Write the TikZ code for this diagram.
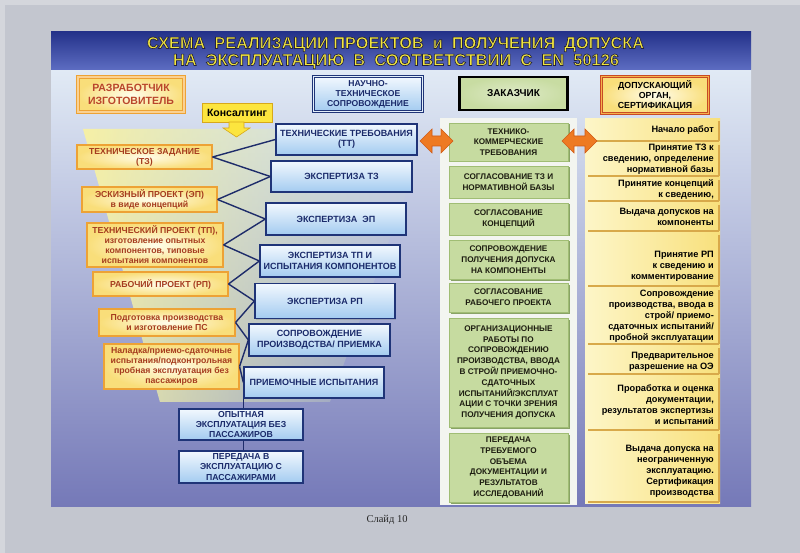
\documentclass[tikz,border=0pt]{standalone}
\usepackage{fontspec}
\setmainfont{Liberation Sans}
\newfontfamily\slidefont{Liberation Serif}
\usetikzlibrary{shadows,fadings}
\definecolor{pagebg}{HTML}{C3C6CF}
\definecolor{pageedge}{HTML}{D4D6DC}
\definecolor{bodytop}{HTML}{E1EAF5}
\definecolor{bodymid}{HTML}{AEB6DF}
\definecolor{bodybot}{HTML}{7579B8}
\definecolor{bandtop}{HTML}{24328A}
\definecolor{bandbot}{HTML}{5D6DC2}
\definecolor{tyel}{HTML}{F3E63C}
\definecolor{obord}{HTML}{EDA235}
\definecolor{oin}{HTML}{FFFDEB}
\definecolor{oout}{HTML}{F9DE7A}
\definecolor{otext}{HTML}{A53C1F}
\definecolor{htext}{HTML}{B9452B}
\definecolor{bbord}{HTML}{1F3478}
\definecolor{bbtop}{HTML}{F2F8FE}
\definecolor{bbbot}{HTML}{A3CBF0}
\definecolor{btext}{HTML}{1A2A6A}
\definecolor{gfill}{HTML}{C6DBA0}
\definecolor{gbord}{HTML}{A0BD74}
\definecolor{gshadow}{HTML}{7E9B58}
\definecolor{gtext}{HTML}{1C1C10}
\definecolor{gpanel}{HTML}{F3F5F0}
\definecolor{ypL}{HTML}{FDF6C8}
\definecolor{ypR}{HTML}{F8E07C}
\definecolor{ysep}{HTML}{D8A94A}
\definecolor{conn}{HTML}{1E2C6A}
\definecolor{aor}{HTML}{EE7A22}
\definecolor{ayl}{HTML}{FDE36A}
\definecolor{abord}{HTML}{D05A16}
\definecolor{konsY}{HTML}{FCE53E}
\definecolor{konsB}{HTML}{D7A81A}
\definecolor{funY}{HTML}{F8F1A2}
\definecolor{funG}{HTML}{D3EBC4}
\definecolor{zfill}{HTML}{C8DCA2}
\definecolor{dred}{HTML}{C84A25}
\definecolor{dor}{HTML}{F6B24A}
\tikzfading[name=fadeR, left color=transparent!5, right color=transparent!100]
\newcommand\fs[2]{\fontsize{#1}{#2}\selectfont}
\newcommand\outl{\special{pdf:literal direct 0.953 0.902 0.235 rg 0.137 0.137 0.247 RG 0.4 w 2 Tr}}
\newcommand\outloff{\special{pdf:literal direct 0 Tr}}
\newcommand\ttlA{\outl\resizebox{497pt}{11.5pt}{\bfseries СХЕМА\ \ РЕАЛИЗАЦИИ\ ПРОЕКТОВ\ \ и\ \ ПОЛУЧЕНИЯ\ \ ДОПУСКА}\outloff}
\newcommand\ttlB{\outl\resizebox{446pt}{11.5pt}{\bfseries НА\ \ ЭКСПЛУАТАЦИЮ\ \ В\ \ СООТВЕТСТВИИ\ \ С\ \ EN\ \ 50126}\outloff}
\newcommand\dblarrow[3]{%
  \shadedraw[top color=aor, middle color=ayl, bottom color=aor, draw=abord, line width=.6pt]
  (#1,#3) -- (#1+12,#3-12) -- (#1+12,#3-5) -- (#2-12,#3-5) -- (#2-12,#3-12) -- (#2,#3)
  -- (#2-12,#3+12) -- (#2-12,#3+5) -- (#1+12,#3+5) -- (#1+12,#3+12) -- cycle;}
\begin{document}
\begin{tikzpicture}[x=1pt,y=-1pt,
  obox/.style={draw=obord, line width=1.1pt, inner color=oin, outer color=oout, text=otext,
    font=\bfseries\fs{8.7}{10}, align=center, inner sep=0pt, minimum width=135pt,
    drop shadow={shadow xshift=1.2pt, shadow yshift=-1.2pt, opacity=.35}},
  bbox/.style={draw=bbord, line width=1.3pt, top color=bbtop, bottom color=bbbot, text=btext,
    font=\bfseries\fs{9}{10.5}, align=center, inner sep=0pt, minimum width=141pt,
    drop shadow={shadow xshift=1.2pt, shadow yshift=-1.2pt, opacity=.35}},
  gbox/.style={draw=gbord, line width=.6pt, fill=gfill, text=gtext, font=\bfseries\fs{8.2}{10.8},
    align=center, inner sep=0pt, minimum width=119pt,
    drop shadow={shadow xshift=1.5pt, shadow yshift=-1.5pt, fill=gshadow, opacity=.9}},
  yitem/.style={anchor=east, align=right, inner sep=0pt, font=\bfseries\fs{9.2}{11}, text=black},
  ysepline/.style={draw=ysep, line width=1.4pt},
  cline/.style={draw=conn, line width=1.4pt},
  ttl/.style={anchor=base, inner sep=0pt},
]
\useasboundingbox (0,0) rectangle (800,553);
\fill[pagebg] (0,0) rectangle (800,553);
\fill[pageedge] (0,0) rectangle (5,553);
\fill[pageedge] (0,0) rectangle (800,5);
% slide body
\shade[top color=bodytop, middle color=bodymid, bottom color=bodybot] (51,70) rectangle (751,506);
% yellow funnel
\shade[left color=funY, right color=funG, path fading=fadeR] (83,129) -- (430,129) -- (330,402) -- (160,402) -- cycle;
% title band
\shade[top color=bandtop, bottom color=bandbot] (51,32) rectangle (751,70);
\node[ttl, text=tyel] (title1) at (395.5,48.5) {\ttlA};
\node[ttl, text=tyel] (title2) at (396,65.5) {\ttlB};

% headers
\node[draw=obord, line width=1.2pt, double=dor!60, double distance=1.2pt, inner color=oin, outer color=oout,
  minimum width=106pt, minimum height=35pt, inner sep=0pt, align=center, text=htext,
  font=\bfseries\fs{10.5}{12.5}] (razr) at (131,94.5) {РАЗРАБОТЧИК\\ИЗГОТОВИТЕЛЬ};
\node[draw=bbord, line width=1pt, double=white!70!bbbot, double distance=1pt, top color=bbtop, bottom color=bbbot,
  minimum width=109pt, minimum height=35pt, inner sep=0pt, align=center, text=btext,
  font=\bfseries\fs{8.6}{10}] (nauch) at (368,94) {НАУЧНО-\\ТЕХНИЧЕСКОЕ\\СОПРОВОЖДЕНИЕ};
\node[draw=black, line width=2.4pt, inner color=zfill!60!white, outer color=zfill,
  minimum width=108pt, minimum height=33pt, inner sep=0pt, text=black,
  font=\bfseries\fs{10}{11}] (zak) at (513.5,93.5) {ЗАКАЗЧИК};
\node[draw=dred, line width=1pt, double=dor, double distance=1.2pt, inner color=oin, outer color=oout,
  minimum width=107pt, minimum height=37pt, inner sep=0pt, align=center, text=black,
  font=\bfseries\fs{8.8}{10}] (dop) at (655,95) {ДОПУСКАЮЩИЙ\\ОРГАН,\\СЕРТИФИКАЦИЯ};

% consulting
\node[draw=konsB, line width=.8pt, fill=konsY, minimum width=70pt, minimum height=19pt, inner sep=0pt,
  font=\bfseries\fs{10.5}{12}] (kons) at (237,112.5) {Консалтинг};
\filldraw[fill=konsY, draw=konsB, line width=.6pt] (229,122) -- (244,122) -- (244,128) -- (250,128)
  -- (236.5,137) -- (223,128) -- (229,128) -- cycle;

% left column
\node[obox, minimum height=24pt] (tz) at (144.5,157) {ТЕХНИЧЕСКОЕ ЗАДАНИЕ\\(ТЗ)};
\node[obox, minimum height=25pt] (ep) at (149.5,199.5) {ЭСКИЗНЫЙ ПРОЕКТ (ЭП)\\в виде концепций};
\node[obox, minimum height=44pt, minimum width=136pt] (tp) at (155,245) {ТЕХНИЧЕСКИЙ ПРОЕКТ (ТП),\\изготовление опытных\\компонентов, типовые\\испытания компонентов};
\node[obox, minimum height=24pt] (rp) at (160.5,284) {РАБОЧИЙ ПРОЕКТ (РП)};
\node[obox, minimum height=27pt, minimum width=136pt] (pp) at (167,322.5) {Подготовка производства\\и изготовление ПС};
\node[obox, minimum height=45pt] (nal) at (171.5,366.5) {Наладка/приемо-сдаточные\\испытания/подконтрольная\\пробная эксплуатация без\\пассажиров};

% middle column
\node[bbox, minimum height=31pt] (tt) at (346.5,139.5) {ТЕХНИЧЕСКИЕ ТРЕБОВАНИЯ\\(ТТ)};
\node[bbox, minimum height=31pt] (etz) at (341.5,176.5) {ЭКСПЕРТИЗА ТЗ};
\node[bbox, minimum height=32pt, minimum width=140pt] (eep) at (336,219) {ЭКСПЕРТИЗА\ \ ЭП};
\node[bbox, minimum height=32pt, minimum width=140pt] (etp) at (330,261) {ЭКСПЕРТИЗА ТП И\\ИСПЫТАНИЯ КОМПОНЕНТОВ};
\node[bbox, minimum height=35pt, minimum width=140pt] (erp) at (325,301) {ЭКСПЕРТИЗА РП};
\node[bbox, minimum height=32pt] (sop) at (319.5,340) {СОПРОВОЖДЕНИЕ\\ПРОИЗВОДСТВА/ ПРИЕМКА};
\node[bbox, minimum height=31pt, minimum width=140pt] (prm) at (314,382.5) {ПРИЕМОЧНЫЕ ИСПЫТАНИЯ};
\node[bbox, minimum height=31pt, minimum width=124pt, font=\bfseries\fs{8.7}{10.3}] (op) at (241,424.5) {ОПЫТНАЯ\\ЭКСПЛУАТАЦИЯ БЕЗ\\ПАССАЖИРОВ};
\node[bbox, minimum height=32pt, minimum width=124pt, font=\bfseries\fs{8.7}{10.3}] (pe) at (241,467) {ПЕРЕДАЧА В\\ЭКСПЛУАТАЦИЮ С\\ПАССАЖИРАМИ};

% connectors
\draw[cline] (tz.east) -- (tt.west);
\draw[cline] (tz.east) -- (etz.west);
\draw[cline] (ep.east) -- (etz.west);
\draw[cline] (ep.east) -- (eep.west);
\draw[cline] (tp.east) -- (eep.west);
\draw[cline] (tp.east) -- (etp.west);
\draw[cline] (rp.east) -- (etp.west);
\draw[cline] (rp.east) -- (erp.west);
\draw[cline] (pp.east) -- (erp.west);
\draw[cline] (pp.east) -- (sop.west);
\draw[cline] (nal.east) -- (sop.west);
\draw[cline] (nal.east) -- (prm.west);
\draw[cline] (prm.south west) -- (prm.south west |- op.north);
\draw[cline] (op.south -| prm.south west) -- (pe.north -| prm.south west);

% green column
\fill[gpanel] (440,118) rectangle (577,505);
\node[gbox, minimum height=38pt] (g1) at (508.5,142) {ТЕХНИКО-\\КОММЕРЧЕСКИЕ\\ТРЕБОВАНИЯ};
\node[gbox, minimum height=32pt] (g2) at (508.5,182) {СОГЛАСОВАНИЕ ТЗ И\\НОРМАТИВНОЙ БАЗЫ};
\node[gbox, minimum height=32pt] (g3) at (508.5,219) {СОГЛАСОВАНИЕ\\КОНЦЕПЦИЙ};
\node[gbox, minimum height=39pt] (g4) at (508.5,259.5) {СОПРОВОЖДЕНИЕ\\ПОЛУЧЕНИЯ ДОПУСКА\\НА КОМПОНЕНТЫ};
\node[gbox, minimum height=29pt] (g5) at (508.5,297.5) {СОГЛАСОВАНИЕ\\РАБОЧЕГО ПРОЕКТА};
\node[gbox, minimum height=109pt] (g6) at (508.5,372.5) {ОРГАНИЗАЦИОННЫЕ\\РАБОТЫ ПО\\СОПРОВОЖДЕНИЮ\\ПРОИЗВОДСТВА, ВВОДА\\В СТРОЙ/ ПРИЕМОЧНО-\\СДАТОЧНЫХ\\ИСПЫТАНИЙ/ЭКСПЛУАТ\\АЦИИ С ТОЧКИ ЗРЕНИЯ\\ПОЛУЧЕНИЯ ДОПУСКА};
\node[gbox, minimum height=69pt] (g7) at (508.5,467.5) {ПЕРЕДАЧА\\ТРЕБУЕМОГО\\ОБЪЕМА\\ДОКУМЕНТАЦИИ И\\РЕЗУЛЬТАТОВ\\ИССЛЕДОВАНИЙ};

% yellow column
\shade[left color=ypL, right color=ypR] (585,119) rectangle (720,503);
\foreach \yy/\ya in {141/119,176/143,201/178,231/203,286/233,344/288,374/346,430/376,502/432}{
  \draw[ysepline] (588,\yy) -- (719,\yy);
  \draw[ysepline] (719,\ya+2) -- (719,\yy);
}
\node[yitem] (y1) at (714,130) {Начало работ};
\node[yitem] (y2) at (714,159) {Принятие ТЗ к\\сведению, определение\\нормативной базы};
\node[yitem] (y3) at (714,189.5) {Принятие концепций\\к сведению,};
\node[yitem] (y4) at (714,216.5) {Выдача допусков на\\компоненты};
\node[yitem] (y5) at (714,266) {Принятие РП\\к сведению и\\комментирование};
\node[yitem] (y6) at (714,316) {Сопровождение\\производства, ввода в\\строй/ приемо-\\сдаточных испытаний/\\пробной эксплуатации};
\node[yitem] (y7) at (714,361.5) {Предварительное\\разрешение на ОЭ};
\node[yitem] (y8) at (714,405) {Проработка и оценка\\документации,\\результатов экспертизы\\и испытаний};
\node[yitem] (y9) at (714,471) {Выдача допуска на\\неограниченную\\эксплуатацию.\\Сертификация\\производства};

% arrows
\dblarrow{420}{453}{141}
\dblarrow{562}{597}{141}

% footer
\node[font=\slidefont\fs{10.5}{12}, text=black!85, inner sep=0pt] (slide) at (387,520) {Слайд 10};
\end{tikzpicture}
\end{document}
